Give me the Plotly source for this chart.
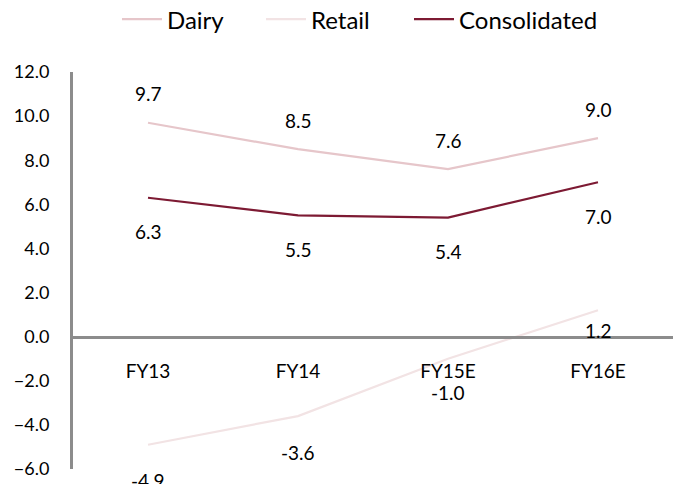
import plotly.graph_objects as go

categories = ["FY13", "FY14", "FY15E", "FY16E"]
dairy = [9.7, 8.5, 7.6, 9.0]
retail = [-4.9, -3.6, -1.0, 1.2]
consolidated = [6.3, 5.5, 5.4, 7.0]
y_ticks = [-6, -4, -2, 0, 2, 4, 6, 8, 10, 12]

Y_MIN, Y_MAX = -6, 12
FONT = "Lato"
C_DAIRY = "#e6c6ca"
C_RETAIL = "#f2e3e4"
C_CONS = "#7d1a33"

fig = go.Figure()
series = [("Dairy", dairy, C_DAIRY, 29, "legend", 0.0733),
          ("Retail", retail, C_RETAIL, -36, "legend2", 0.3133),
          ("Consolidated", consolidated, C_CONS, -34, "legend3", 0.56)]
for name, vals, col, _, lg, _x in series:
    fig.add_trace(go.Scatter(x=categories, y=vals, name=name, mode="lines",
                             legend=lg, line=dict(color=col, width=2.2)))

retail_shift = [-36, -36, -34, -20]
annotations = []
for name, vals, col, shift, _, _x in series:
    for i, (c, v) in enumerate(zip(categories, vals)):
        s = retail_shift[i] if name == "Retail" else shift
        annotations.append(dict(x=c, y=v, text=f"{v:.1f}", showarrow=False,
                                yshift=s, font=dict(family=FONT, size=19, color="#000000")))

zero_pos = (0 - Y_MIN) / (Y_MAX - Y_MIN)

legend_common = dict(orientation="h", xanchor="left", y=1.132, yanchor="middle",
                     font=dict(family=FONT, size=24), itemwidth=40,
                     bgcolor="rgba(0,0,0,0)")
legends = {}
for name, vals, col, shift, lg, lx in series:
    legends[lg] = dict(legend_common, x=lx)

fig.update_layout(
    width=675, height=484,
    margin=dict(l=73, r=2, t=72, b=15, autoexpand=False),
    paper_bgcolor="white", plot_bgcolor="white",
    font=dict(family=FONT, size=19, color="#000000"),
    showlegend=True,
    annotations=annotations,
    xaxis=dict(type="category", range=[-0.5, 3.5], anchor="free", position=zero_pos,
               showline=True, linecolor="#8c8c8c", linewidth=3, showgrid=False,
               zeroline=False, ticks="", ticklabelstandoff=17),
    yaxis=dict(range=[Y_MIN, Y_MAX], tickvals=y_ticks, tickformat=".1f",
               tickfont=dict(size=18),
               showline=True, linecolor="#8c8c8c", linewidth=3, showgrid=False,
               zeroline=False, ticks="", ticklabelstandoff=17),
    **legends,
)

fig.write_html("out.html", config={"displayModeBar": False},
               post_script="document.body.style.margin='0';document.body.style.padding='0';")
